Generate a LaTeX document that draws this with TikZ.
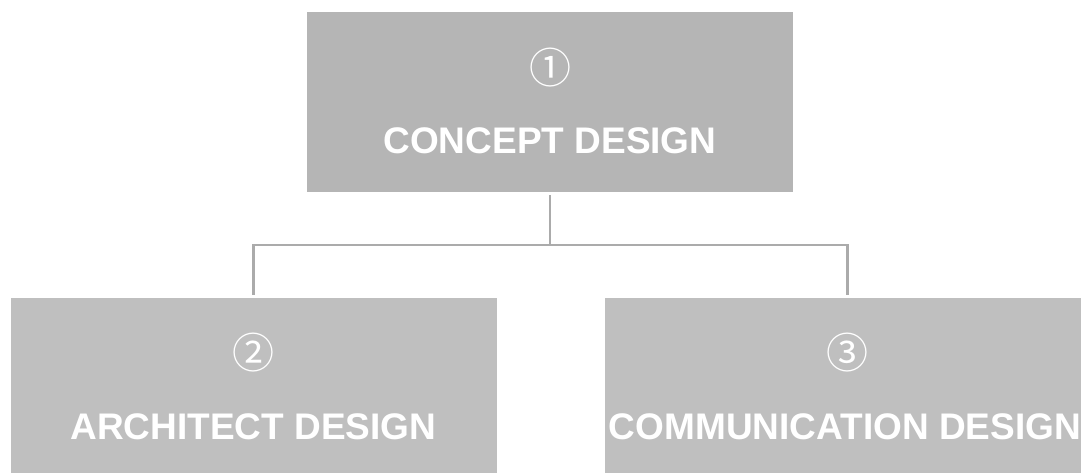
\documentclass[tikz,border=0pt]{standalone}
\usepackage{fontspec}
\setmainfont{Liberation Sans}
\newfontfamily\circfont{Noto Sans CJK KR}
\usetikzlibrary{positioning}
\definecolor{topgray}{HTML}{B5B5B5}
\definecolor{subgray}{HTML}{BFBFBF}
\definecolor{linegray}{HTML}{ABABAB}

\begin{document}
\begin{tikzpicture}[x=1pt, y=-1pt,
  box/.style={rectangle, inner sep=0pt, minimum width=486pt, minimum height=180pt},
  title/.style={anchor=base, inner sep=0pt, text=white, font=\fontsize{37}{44}\selectfont\bfseries},
  num/.style={inner sep=0pt, text=white, font=\circfont\fontsize{42}{46}\selectfont},
  conn/.style={draw=linegray, line width=2.4pt}]
        \useasboundingbox (0,0) rectangle (1081,472);
        \clip (0,0) rectangle (1081,472);
        % blocks
        \node (concept) [box, fill=topgray] at (550,102) {};
        \node (arch) [box, fill=subgray] at (253.5,388) {};
        \node (comm) [box, fill=subgray] at (847.5,388) {};

        \node (conceptnum) [num] at (550,68) {①};
        \node (conceptname) [title] at (550,153) {CONCEPT DESIGN};
        \node (archnum) [num] at (253.5,353) {②};
        \node (archname) [title] at (253.5,439) {ARCHITECT DESIGN};
        \node (commnum) [num] at (847.5,353) {③};
        \node (commname) [title] at (845,439) {COMMUNICATION DESIGN};

        % tree lines
        \coordinate (fork) at (550,245);
        \draw[conn] ([yshift=-3pt]concept.south) -- (fork);
        \draw[conn] ([yshift=3pt]arch.north) |- (fork) -| ([yshift=3pt]comm.north);
    \end{tikzpicture}
\end{document}
